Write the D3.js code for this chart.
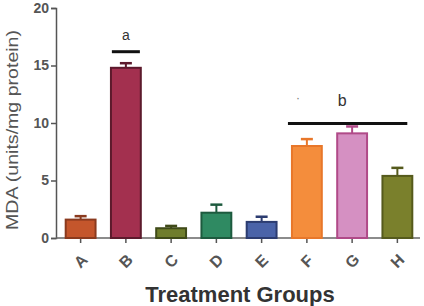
<!DOCTYPE html>
<html>
<head>
<meta charset="utf-8">
<script src="https://cdn.jsdelivr.net/npm/d3@7"></script>
<style>
  body { margin: 0; background: #fff; }
  text { font-family: "Liberation Sans", Arial, sans-serif; }
</style>
</head>
<body>
<script>
// Data

const groups = ["A", "B", "C", "D", "E", "F", "G", "H"];
const means = [1.6, 14.8, 0.85, 2.2, 1.4, 8.0, 9.1, 5.4];
const errors = [0.3, 0.4, 0.2, 0.7, 0.45, 0.6, 0.6, 0.7];
const fills = ["#c4562c", "#a3304f", "#6f7d2c", "#2f8a62", "#4a63a8", "#f48d3c", "#d590c2", "#7a802c"];
const strokes = ["#8a3a1e", "#5c1a2c", "#3f4a18", "#1d5a3e", "#2c3c70", "#e8772a", "#b04a88", "#555a1c"];
const yTicks = [0, 5, 10, 15, 20];

// Set Dimensions

const xSize = 424; const ySize = 306;
const mLeft = 56, mTop = 8, mRight = 420, mBottom = 238;

const svg = d3.select("body")
 .append("svg")
 .attr("width", xSize)
 .attr("height", ySize);

const x = d3.scaleBand()
 .domain(groups)
 .range([mLeft + 2, mRight])
 .paddingInner(0.34)
 .paddingOuter(0.17);

const y = d3.scaleLinear()
 .domain([0, 20])
 .range([mBottom, mTop]);

// Y axis

const yAxis = svg.append("g")
 .attr("transform", `translate(${mLeft},0)`)
 .call(d3.axisLeft(y).tickValues(yTicks).tickSize(5).tickPadding(2));
yAxis.select(".domain").attr("stroke", "#555").attr("stroke-width", 1.5);
yAxis.selectAll(".tick line").attr("stroke", "#555").attr("stroke-width", 1.5);
yAxis.selectAll(".tick text").attr("font-size", 14).attr("font-weight", "bold").attr("fill", "#555");

// X axis

const xAxis = svg.append("g")
 .attr("transform", `translate(0,${mBottom})`)
 .call(d3.axisBottom(x).tickSize(5).tickSizeOuter(0));
xAxis.select(".domain").attr("stroke", "#666").attr("stroke-width", 1.5)
 .attr("d", `M${mLeft},0H${mRight}`);
xAxis.selectAll(".tick line").attr("stroke", "#555").attr("stroke-width", 1.5);
xAxis.selectAll(".tick text")
 .attr("font-size", 16).attr("font-weight", "bold").attr("fill", "#555")
 .attr("text-anchor", "middle")
 .attr("transform", "translate(0,23) rotate(-45)")
 .attr("dy", "0.35em").attr("y", 0);

// Error bars (drawn first so bars sit on top)

const eb = svg.append("g");
groups.forEach((g, i) => {
  const cx = x(g) + x.bandwidth() / 2;
  eb.append("line")
   .attr("x1", cx).attr("x2", cx)
   .attr("y1", y(means[i])).attr("y2", y(means[i] + errors[i]))
   .attr("stroke", strokes[i]).attr("stroke-width", 2);
  eb.append("line")
   .attr("x1", cx - 6).attr("x2", cx + 6)
   .attr("y1", y(means[i] + errors[i])).attr("y2", y(means[i] + errors[i]))
   .attr("stroke", strokes[i]).attr("stroke-width", 2.5);
});

// Bars

svg.append("g")
 .selectAll("rect")
 .data(groups)
 .join("rect")
 .attr("x", d => x(d))
 .attr("y", (d, i) => y(means[i]))
 .attr("width", x.bandwidth())
 .attr("height", (d, i) => y(0) - y(means[i]))
 .attr("fill", (d, i) => fills[i])
 .attr("stroke", (d, i) => strokes[i])
 .attr("stroke-width", 2);

// Significance marks

const sig = svg.append("g");
const bx = x("B") + x.bandwidth() / 2;
sig.append("line")
 .attr("x1", bx - 14).attr("x2", bx + 14)
 .attr("y1", y(16.2)).attr("y2", y(16.2))
 .attr("stroke", "#111").attr("stroke-width", 3);
sig.append("text")
 .attr("x", bx).attr("y", y(17.2))
 .attr("text-anchor", "middle").attr("font-size", 14).attr("fill", "#333")
 .text("a");

const fx = x("F"), hx = x("H") + x.bandwidth();
sig.append("line")
 .attr("x1", fx - 4).attr("x2", hx - 5)
 .attr("y1", y(9.95)).attr("y2", y(9.95))
 .attr("stroke", "#111").attr("stroke-width", 3);
sig.append("text")
 .attr("x", x("G") + x.bandwidth() / 2 - 10).attr("y", y(11.5))
 .attr("text-anchor", "middle").attr("font-size", 16).attr("fill", "#333")
 .text("b");
sig.append("text")
 .attr("x", fx + 6).attr("y", y(11.8))
 .attr("text-anchor", "middle").attr("font-size", 12).attr("fill", "#777")
 .text("·");

// Axis titles

svg.append("text")
 .attr("x", 240).attr("y", 302)
 .attr("text-anchor", "middle")
 .attr("font-size", 22).attr("font-weight", "bold").attr("fill", "#333")
 .text("Treatment Groups");

svg.append("text")
 .attr("transform", `translate(18,130) rotate(-90)`)
 .attr("text-anchor", "middle")
 .attr("font-size", 16).attr("fill", "#555")
 .attr("textLength", 200).attr("lengthAdjust", "spacingAndGlyphs")
 .text("MDA (units/mg protein)");
</script>
</body>
</html>
